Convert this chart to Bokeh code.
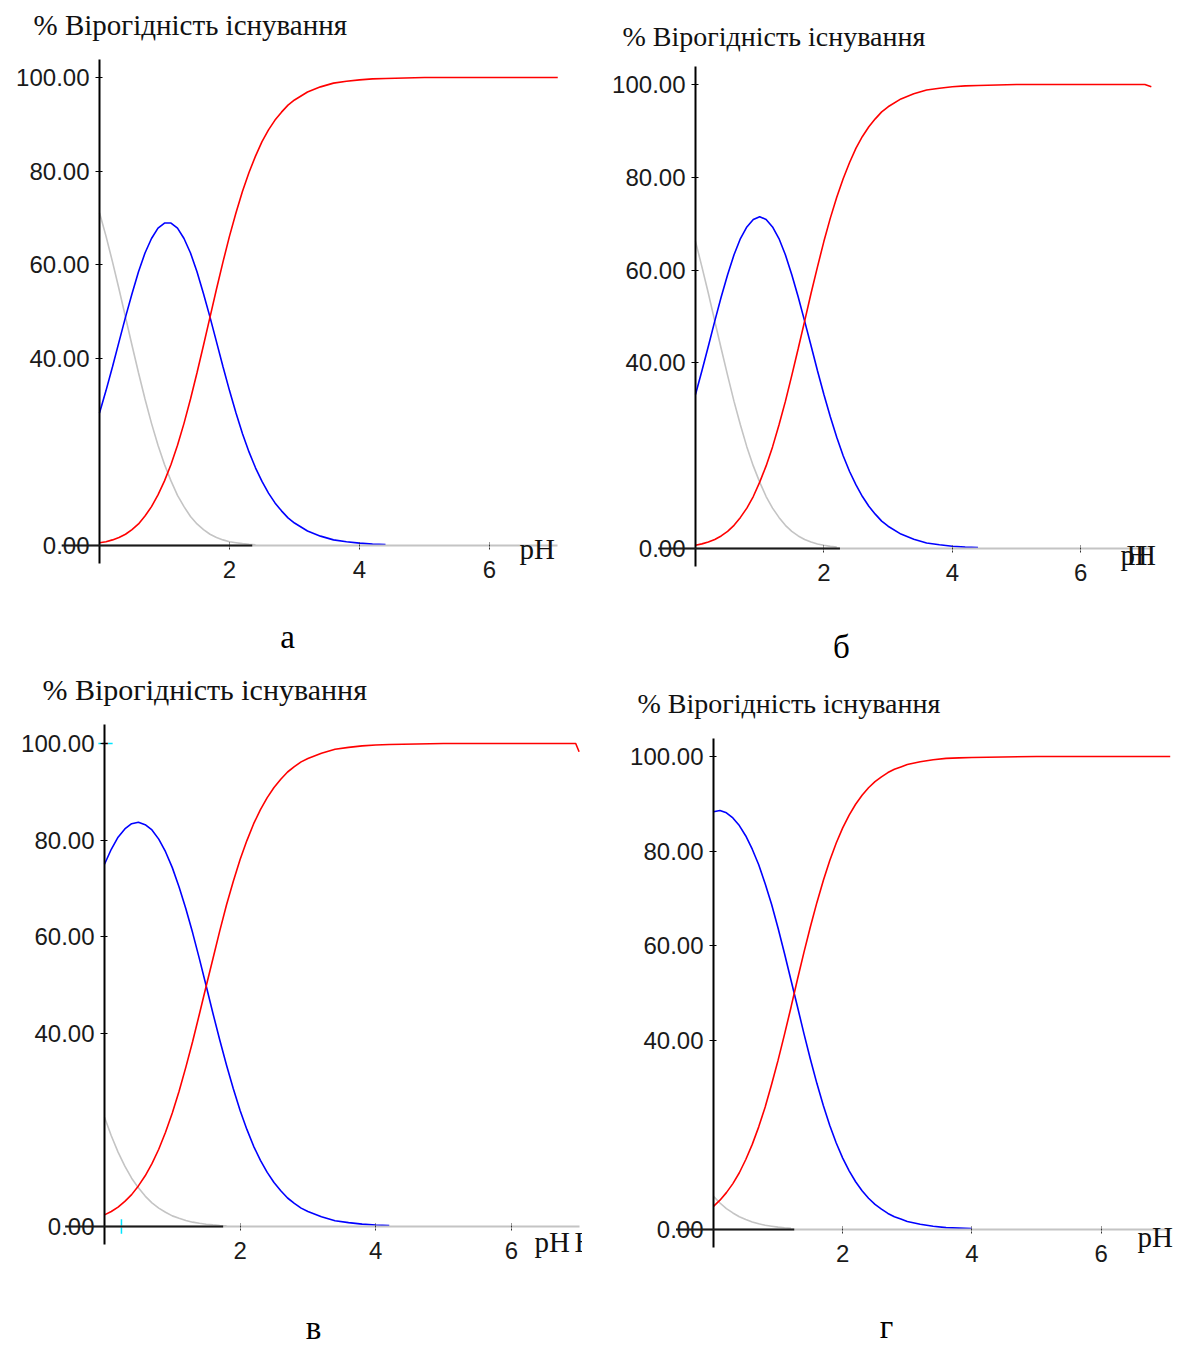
import numpy as np
from bokeh.plotting import figure
from bokeh.models import LinearAxis, FixedTicker, NumeralTickFormatter, Label, Range1d
from bokeh.layouts import column, row
from bokeh.embed import file_html
from bokeh.resources import INLINE

# ---------------- data ----------------
y_ticks = [0, 40, 60, 80, 100]
x_ticks = [2, 4, 6]
titles = ["%  Вірогідність існування", "% Вірогідність існування",
          "% Вірогідність існування", "% Вірогідність існування"]
captions = ["а", "б", "в", "г"]
x_label = "pH"

ph = [0.0, 0.1, 0.2, 0.3, 0.4, 0.5, 0.6, 0.7, 0.8, 0.9,
      1.0, 1.1, 1.2, 1.3, 1.4, 1.5, 1.6, 1.7, 1.8, 1.9,
      2.0, 2.1, 2.2, 2.3, 2.4, 2.5, 2.6, 2.7, 2.8, 2.9,
      3.0, 3.2, 3.4, 3.6, 3.8, 4.0, 4.2, 4.4]

# panel а
gray_a = [71.1, 66.1, 60.6, 54.8, 48.8, 42.8, 36.9, 31.3, 26.1, 21.4,
          17.3, 13.8, 10.7, 8.3, 6.2, 4.6, 3.4, 2.4, 1.7, 1.2,
          0.8, 0.6, 0.4, 0.25, 0.17]
blue_a = [28.3, 33.1, 38.2, 43.5, 48.8, 53.8, 58.5, 62.5, 65.6, 67.8,
          68.9, 68.9, 67.8, 65.6, 62.5, 58.5, 53.8, 48.8, 43.5, 38.2,
          33.1, 28.3, 23.9, 20.0, 16.6, 13.7, 11.2, 9.1, 7.4, 5.9,
          4.8, 3.1, 2.0, 1.2, 0.8, 0.5, 0.3, 0.2]
red_a = [0.6, 0.8, 1.2, 1.7, 2.4, 3.4, 4.6, 6.3, 8.3, 10.8,
         13.8, 17.3, 21.4, 26.1, 31.3, 36.9, 42.8, 48.8, 54.8, 60.6,
         66.1, 71.1, 75.7, 79.7, 83.2, 86.3, 88.8, 90.9, 92.6, 94.1,
         95.2, 96.9, 98.0, 98.8, 99.2, 99.5, 99.7, 99.8]
red_tail_x_a = [5.0, 6.0, 7.05]
red_tail_a = [100.0, 100.0, 100.0]
black_x_a = [-0.58, 2.35]

# panel б
gray_b = [66.2, 60.7, 55.0, 49.0, 43.1, 37.3, 31.7, 26.6, 21.9, 17.8,
          14.3, 11.2, 8.7, 6.7, 5.0, 3.7, 2.7, 1.95, 1.4, 0.96,
          0.7, 0.45, 0.3]
blue_b = [33.2, 38.3, 43.6, 49.0, 54.2, 59.0, 63.3, 66.8, 69.3, 70.9,
          71.5, 70.9, 69.3, 66.8, 63.3, 59.0, 54.2, 49.0, 43.7, 38.3,
          33.2, 28.4, 24.0, 20.0, 16.6, 13.7, 11.2, 9.1, 7.4, 5.9,
          4.8, 3.1, 2.0, 1.2, 0.8, 0.5, 0.3, 0.2]
red_b = [0.7, 1.0, 1.4, 1.95, 2.7, 3.7, 5.0, 6.7, 8.7, 11.2,
         14.3, 17.8, 21.9, 26.6, 31.7, 37.3, 43.1, 49.0, 55.0, 60.7,
         66.2, 71.2, 75.7, 79.7, 83.2, 86.3, 88.8, 90.9, 92.6, 94.1,
         95.2, 96.9, 98.0, 98.8, 99.2, 99.5, 99.7, 99.8]
red_tail_x_b = [5.0, 6.0, 7.0, 7.1]
red_tail_b = [100.0, 100.0, 100.0, 99.5]
black_x_b = [-0.58, 2.25]

# panel в
gray_c = [22.6, 18.8, 15.4, 12.5, 10.0, 8.0, 6.3, 4.9, 3.8, 2.95,
          2.2, 1.7, 1.25, 0.9, 0.67, 0.48, 0.33, 0.2, 0.15]
blue_c = [75.0, 78.1, 80.6, 82.3, 83.4, 83.7, 83.2, 82.1, 80.2, 77.6,
          74.3, 70.3, 65.8, 60.8, 55.4, 49.8, 44.1, 38.6, 33.4, 28.5,
          24.0, 20.1, 16.6, 13.7, 11.2, 9.1, 7.4, 5.9, 4.8, 3.8,
          3.1, 2.0, 1.2, 0.8, 0.5, 0.3, 0.2]
red_c = [2.4, 3.1, 4.0, 5.2, 6.6, 8.4, 10.5, 13.0, 16.0, 19.5,
         23.5, 28.0, 33.0, 38.3, 44.0, 49.8, 55.5, 61.2, 66.6, 71.5,
         76.0, 79.9, 83.4, 86.3, 88.8, 90.9, 92.6, 94.1, 95.2, 96.2,
         96.9, 98.0, 98.8, 99.2, 99.5, 99.7, 99.8]
red_tail_x_c = [5.0, 6.0, 6.95, 7.0]
red_tail_c = [100.0, 100.0, 100.0, 98.3]
black_x_c = [-0.58, 1.75]
cursor_x_c = [0.25]
cursor_y_c = [100.0]

# panel г
gray_d = [7.0, 5.6, 4.4, 3.5, 2.7, 2.1, 1.6, 1.2, 0.9, 0.7,
          0.5, 0.37, 0.26]
blue_d = [88.3, 88.6, 88.1, 87.0, 85.4, 83.2, 80.4, 77.1, 73.1, 68.7,
          63.7, 58.3, 52.7, 47.1, 41.4, 36.0, 30.9, 26.2, 22.0, 18.3,
          15.1, 12.4, 10.1, 8.2, 6.6, 5.3, 4.3, 3.4, 2.7, 2.2,
          1.7, 1.1, 0.7, 0.4, 0.3, 0.2]
red_d = [4.9, 6.2, 7.8, 9.7, 12.0, 14.8, 18.0, 21.7, 25.9, 30.7,
         35.8, 41.3, 47.0, 52.9, 58.6, 64.0, 69.1, 73.8, 78.0, 81.7,
         84.9, 87.6, 89.9, 91.8, 93.4, 94.7, 95.7, 96.6, 97.3, 97.8,
         98.3, 98.9, 99.3, 99.6, 99.7, 99.8]
red_tail_x_d = [5.0, 6.0, 7.07]
red_tail_d = [100.0, 100.0, 100.0]
black_x_d = [-0.58, 1.25]

# ---------------- styling / layout ----------------
SANS = "Liberation Sans"
SERIF = "Liberation Serif"
GRAY = "#c4c4c4"
BLUE = "#0000ff"
RED = "#ff0000"


def make_panel(cfg, gray, blue, red, tail_x, tail_y, black_x, title, caption,
               extra_h=None):
    left, top, w, h = cfg["box"]
    x0, sx, y0, sy = cfg["cal"]
    xr = Range1d((left - x0) / sx, (left + w - x0) / sx)
    yr = Range1d((y0 - (top + h)) / sy, (y0 - top) / sy)
    p = figure(width=w, height=h, x_range=xr, y_range=yr,
               x_axis_type=None, y_axis_type=None,
               toolbar_location=None, output_backend="svg", min_border=0)
    p.outline_line_color = None
    p.background_fill_color = "white"
    p.border_fill_color = "white"

    def dx(px):
        return (px - x0) / sx

    def dy(py):
        return (y0 - py) / sy

    # axes
    yax = LinearAxis(fixed_location=0, bounds=(-3.8, 103.9),
                     ticker=FixedTicker(ticks=y_ticks),
                     formatter=NumeralTickFormatter(format="0.00"))
    yax.axis_line_color = "black"
    yax.axis_line_width = 2
    yax.major_tick_in = 3
    yax.major_tick_out = 4
    yax.major_tick_line_color = "black"
    yax.minor_tick_line_color = None
    yax.major_label_text_font = SANS
    yax.major_label_text_font_size = "24px"
    yax.major_label_text_color = "#1a1a1a"
    yax.major_label_standoff = 6
    p.add_layout(yax, "left")

    xend = tail_x[-1]
    xax = LinearAxis(fixed_location=0, bounds=(-0.58, xend),
                     ticker=FixedTicker(ticks=x_ticks))
    xax.axis_line_color = GRAY
    xax.axis_line_width = 2
    xax.major_tick_in = 3
    xax.major_tick_out = 4
    xax.major_tick_line_color = "#333333"
    xax.major_tick_line_dash = "2 1"
    xax.minor_tick_line_color = None
    xax.major_label_text_font = SANS
    xax.major_label_text_font_size = "24px"
    xax.major_label_text_color = "#1a1a1a"
    xax.major_label_standoff = 11
    p.add_layout(xax, "below")

    # curves
    p.line(ph[:len(gray)], gray, line_color=GRAY, line_width=1.6)
    p.line(ph[:len(blue)], blue, line_color=BLUE, line_width=1.6)
    p.line(ph[:len(red)] + tail_x, red + tail_y, line_color=RED, line_width=1.6)
    p.line(black_x, [0, 0], line_color="#1a1a1a", line_width=2.2, level="overlay")

    # texts
    tx, ty = cfg["title"]
    p.add_layout(Label(x=dx(tx), y=dy(ty), text=title, text_font=SERIF,
                       text_font_size=cfg["tsize"], text_color="#111111",
                       text_baseline="alphabetic", text_align="left"))
    lx, ly = cfg["xlabel"]
    p.add_layout(Label(x=dx(lx), y=dy(ly), text=x_label, text_font=SERIF,
                       text_font_size="29px", text_color="#111111",
                       text_baseline="alphabetic", text_align="left"))
    if extra_h is not None:
        p.add_layout(Label(x=dx(lx + extra_h), y=dy(ly), text="H", text_font=SERIF,
                           text_font_size="29px", text_color="#111111",
                           text_baseline="alphabetic", text_align="left"))
    cx, cy = cfg["caption"]
    p.add_layout(Label(x=dx(cx), y=dy(cy), text=caption, text_font=SERIF,
                       text_font_size="33px", text_color="#000000",
                       text_baseline="alphabetic", text_align="center"))
    return p


cfg_a = dict(box=(0, 0, 590, 665), cal=(99, 65.0, 545, 4.68), tsize="29px",
             title=(33, 24), xlabel=(519, 548), caption=(287, 636))
cfg_b = dict(box=(590, 0, 586, 665), cal=(695, 64.2, 548, 4.64), tsize="28px",
             title=(622, 36), xlabel=(1120, 554), caption=(841, 646))
cfg_c = dict(box=(0, 665, 582, 684), cal=(104, 67.8, 1226, 4.83), tsize="30px",
             title=(42, 689), xlabel=(534, 1241), caption=(313, 1327))
cfg_d = dict(box=(582, 665, 594, 684), cal=(713, 64.6, 1229, 4.73), tsize="28px",
             title=(637, 703), xlabel=(1137, 1236), caption=(886, 1326))

pa = make_panel(cfg_a, gray_a, blue_a, red_a, red_tail_x_a, red_tail_a, black_x_a,
                titles[0], captions[0])
pb = make_panel(cfg_b, gray_b, blue_b, red_b, red_tail_x_b, red_tail_b, black_x_b,
                titles[1], captions[1], extra_h=6)
pc = make_panel(cfg_c, gray_c, blue_c, red_c, red_tail_x_c, red_tail_c, black_x_c,
                titles[2], captions[2], extra_h=40)
pd = make_panel(cfg_d, gray_d, blue_d, red_d, red_tail_x_d, red_tail_d, black_x_d,
                titles[3], captions[3])

# small cursor marks seen in panel в
pc.segment(x0=cursor_x_c, y0=[-1.5], x1=cursor_x_c, y1=[1.5], line_color="#00e5ff", line_width=1.5)
pc.segment(x0=[-0.09], y0=cursor_y_c, x1=[0.12], y1=cursor_y_c, line_color="#00e5ff", line_width=1.5)
pc.segment(x0=[-0.04], y0=cursor_y_c, x1=[0.05], y1=cursor_y_c, line_color=RED, line_width=1.5)

layout = column(row(pa, pb, spacing=0), row(pc, pd, spacing=0), spacing=0)
open("out.html", "w").write(file_html(layout, INLINE))
